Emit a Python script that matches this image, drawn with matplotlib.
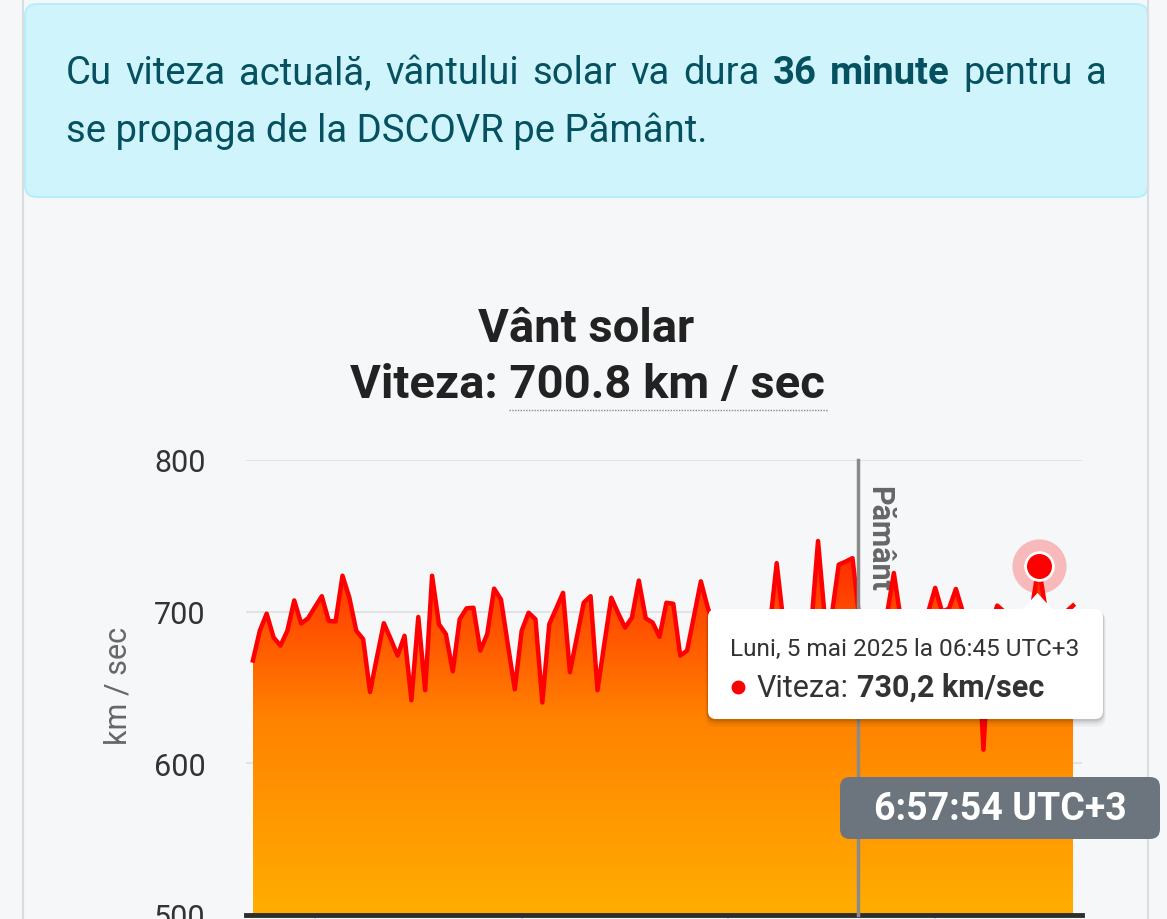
import matplotlib
matplotlib.use("Agg")
import numpy as np
import pandas as pd
import matplotlib.pyplot as plt
from matplotlib.patches import FancyBboxPatch, Polygon
from matplotlib.colors import LinearSegmentedColormap
import matplotlib.dates as mdates

plt.rcParams['font.family'] = ['Roboto', 'DejaVu Sans']

# solar wind speed, 1-minute samples starting 04:51 UTC+3
start = "2025-05-05 04:51"
speed = [667.8, 687.4, 698.7, 683.0, 677.6, 687.4, 707.4, 692.2, 695.6, 703.0,
         710.2, 693.9, 693.5, 723.7, 709.2, 687.4, 681.9, 647.0, 670.0, 692.4,
         682.0, 671.0, 684.1, 641.6, 696.5, 648.2, 723.7, 691.7, 685.2, 660.6,
         695.0, 702.2, 702.6, 674.3, 685.2, 715.2, 708.0, 678.0, 648.8, 687.4,
         699.3, 695.0, 640.1, 691.7, 702.0, 712.4, 660.1, 683.0, 705.9, 710.2,
         648.2, 679.0, 709.2, 699.0, 689.5, 696.1, 720.5, 695.6, 692.8, 683.4,
         705.9, 705.2, 671.0, 674.3, 697.0, 720.0, 702.6, 690.0, 680.0, 695.0,
         685.0, 675.0, 690.0, 700.0, 688.0, 690.0, 732.0, 692.0, 685.0, 680.0,
         695.0, 690.0, 746.6, 695.0, 698.0, 731.0, 733.0, 735.3, 695.0, 690.0,
         700.0, 690.0, 698.0, 725.5, 695.0, 690.0, 685.0, 695.0, 700.0, 715.7,
         700.0, 702.0, 715.0, 700.0, 690.0, 698.0, 609.0, 690.0, 704.0, 700.0,
         698.0, 695.0, 700.0, 701.0, 730.2, 702.0, 698.0, 695.0, 700.0, 704.0]
times = pd.date_range(start, periods=len(speed), freq="min")
hover_time = pd.Timestamp("2025-05-05 06:45")
hover_speed = 730.2
earth_time = pd.Timestamp("2025-05-05 06:18:50")
tick_times = pd.date_range("2025-05-05 05:00", "2025-05-05 06:30", freq="30min")
y_ticks = [500, 600, 700, 800]
current_speed = 700.8
travel_min = 36
clock = "6:57:54 UTC+3"

W, H = 1167, 920
fig = plt.figure(figsize=(W / 100, H / 100), dpi=100)
fig.patch.set_facecolor('#f5f7f9')
r = fig.canvas.get_renderer()

# background layer in pixel coords
bg = fig.add_axes([0, 0, 1, 1])
bg.set_xlim(0, W)
bg.set_ylim(H, 0)
bg.axis('off')
bg.plot([23, 23], [0, H], color='#d9dee3', lw=1.5)
bg.plot([1148, 1148], [0, H], color='#d9dee3', lw=1.5)
bg.add_patch(FancyBboxPatch((25, 5), 1123, 193, boxstyle="round,pad=0,rounding_size=12",
                            fc='#cff4fc', ec='#b6effb', lw=1.5))
info_c = '#055160'

# justified first line
words = [(w, 'normal') for w in "Cu viteza actuală, vântului solar va dura".split()]
words += [(w, 'bold') for w in f"{travel_min} minute".split()]
words += [(w, 'normal') for w in "pentru a".split()]
objs = [bg.text(0, 84, w, fontsize=27.5, color=info_c, va='baseline', fontweight=fw) for w, fw in words]
widths = [o.get_window_extent(renderer=r).width for o in objs]
gap = (1107 - 66 - sum(widths)) / (len(objs) - 1)
x = 66
for o, w in zip(objs, widths):
    o.set_x(x)
    x += w + gap
bg.text(66, 142, "se propaga de la DSCOVR pe Pământ.", fontsize=27.5, color=info_c, va='baseline')

bg.text(586, 342, "Vânt solar", fontsize=34, fontweight='bold', color='#222222', ha='center', va='baseline')
bg.text(587, 398, f"Viteza: {current_speed} km / sec", fontsize=34, fontweight='bold',
        color='#222222', ha='center', va='baseline')
bg.plot([509, 828], [411, 411], color='#888888', lw=1, ls=(0, (1, 1)))

# chart
ax = fig.add_axes([246 / W, 4 / H, 836 / W, 455 / H])
ax.set_facecolor('none')
fb = ax.fill_between(times, speed, 500, color='none', lw=0)
xn = mdates.date2num(times)
cmap = LinearSegmentedColormap.from_list('sw', ['#ffae00', '#ff8200', '#ff1a00'])
grad = np.linspace(0, 1, 256).reshape(-1, 1)
im = ax.imshow(grad, extent=[xn[0], xn[-1], 500, 760], origin='lower', aspect='auto',
               cmap=cmap, zorder=1, interpolation='bilinear')
im.set_clip_path(fb.get_paths()[0], transform=ax.transData)
ax.plot(times, speed, color='#ff0000', lw=3.2, zorder=3)

ax.set_xlim(times[0] - pd.Timedelta(minutes=1), times[-1] + pd.Timedelta(minutes=1.3))
ax.set_ylim(500, 800)
ax.set_yticks(y_ticks)
ax.set_yticklabels([str(v) for v in y_ticks])
for v in y_ticks[1:]:
    ax.axhline(v, color='#e3e3e3', lw=1.5, zorder=0)
ax.tick_params(axis='y', length=0, pad=29, labelsize=22, labelcolor='#333333')
ax.set_xticks(tick_times)
ax.set_xticklabels([])
ax.tick_params(axis='x', length=8, width=1.5, color='#ccd6eb', direction='out')
for s in ['top', 'left', 'right']:
    ax.spines[s].set_visible(False)
ax.spines['bottom'].set_color('#2e2e2e')
ax.spines['bottom'].set_linewidth(3.5)
ax.set_ylabel("km / sec", fontsize=22, color='#666666')
ax.yaxis.set_label_coords(-0.136, 0.505)

ax.axvline(earth_time, color='#8a8a8a', lw=2.5, zorder=4, clip_on=False)
ax.plot(hover_time, hover_speed, 'o', ms=39, color='#ff0000', alpha=0.25, mec='none', zorder=5)
ax.plot(hover_time, hover_speed, 'o', ms=20, mfc='#ff0000', mec='white', mew=2, zorder=6)
bg.text(879, 486, "Pământ", rotation=-90, fontsize=22, fontweight='bold', color='#666666',
        ha='center', va='top')

# overlay: tooltip + clock box
ov = fig.add_axes([0, 0, 1, 1], zorder=10)
ov.set_facecolor('none')
ov.set_xlim(0, W)
ov.set_ylim(H, 0)
ov.axis('off')
for d, a in [(5, 0.05), (3, 0.08), (1.5, 0.1)]:
    ov.add_patch(FancyBboxPatch((708 - d / 2, 610 + d / 2), 395 + d, 110 + d,
                                boxstyle="round,pad=0,rounding_size=9", fc='black', ec='none', alpha=a))
ov.add_patch(FancyBboxPatch((708, 610), 395, 110, boxstyle="round,pad=0,rounding_size=8",
                            fc='white', ec='none'))
ov.add_patch(Polygon([(1022, 611), (1053, 611), (1037.5, 594)], closed=True, fc='white', ec='none'))
ov.text(730, 656, "Luni, 5 mai 2025 la 06:45 UTC+3", fontsize=17.6, color='#333333', va='baseline')
ov.plot(738, 688, 'o', ms=9, color='#ff0000')
t1 = ov.text(757, 697, "Viteza:", fontsize=22, color='#333333', va='baseline')
w1 = t1.get_window_extent(renderer=r).width
ov.text(757 + w1 + 8, 697, f"{hover_speed:.1f}".replace('.', ',') + " km/sec", fontsize=22,
        fontweight='bold', color='#333333', va='baseline')

ov.add_patch(FancyBboxPatch((840, 778), 320, 62, boxstyle="round,pad=0,rounding_size=10",
                            fc='#6c757d', ec='none'))
ov.text(1000, 810, clock, fontsize=27, fontweight='bold', color='white', ha='center', va='center')

fig.savefig("out.png", dpi=100, facecolor=fig.get_facecolor())
